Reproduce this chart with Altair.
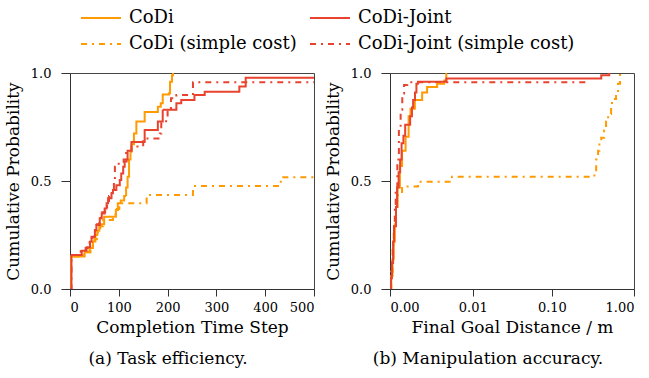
import altair as alt
import pandas as pd

SERIES = ["CoDi", "CoDi (simple cost)", "CoDi-Joint", "CoDi-Joint (simple cost)"]
COLORS = ["#FF9A00", "#FF9A00", "#E8432E", "#E8432E"]
DASHES = [[1, 0], [6, 5, 2, 5], [1, 0], [6, 5, 2, 5]]

# ---- (a) Task efficiency: completion time step ECDFs ----
a_codi_x = [0, 2, 30, 40, 47, 52, 56, 60, 64, 70, 94, 98, 104, 111, 115, 118, 121, 124, 126, 131, 136, 153, 180, 186, 190, 203, 205, 209, 211]
a_codi_p = [0, 0.15, 0.17, 0.19, 0.22, 0.25, 0.27, 0.29, 0.30, 0.335, 0.366, 0.397, 0.41, 0.43, 0.47, 0.52, 0.60, 0.64, 0.67, 0.72, 0.775, 0.82, 0.844, 0.86, 0.90, 0.906, 0.96, 0.99, 1.0]

a_joint_x = [0, 3, 24, 34, 41, 44, 51, 54, 61, 65, 71, 75, 78, 85, 88, 95, 102, 105, 109, 112, 116, 118, 126, 153, 180, 190, 218, 228, 255, 276, 347, 360, 500]
a_joint_p = [0, 0.157, 0.177, 0.193, 0.219, 0.242, 0.273, 0.296, 0.327, 0.35, 0.373, 0.397, 0.42, 0.443, 0.458, 0.48, 0.505, 0.535, 0.566, 0.59, 0.60, 0.64, 0.68, 0.736, 0.775, 0.83, 0.86, 0.875, 0.898, 0.913, 0.937, 0.978, 0.978]

a_codi_sc_x = [0, 2, 28, 42, 50, 55, 62, 68, 88, 96, 101, 157, 252, 432, 500]
a_codi_sc_p = [0, 0.15, 0.17, 0.20, 0.23, 0.26, 0.29, 0.32, 0.345, 0.37, 0.397, 0.435, 0.477, 0.517, 0.517]

a_joint_sc_x = [0, 3, 22, 32, 40, 45, 50, 55, 60, 66, 72, 76, 80, 86, 90, 92, 96, 110, 115, 126, 150, 184, 187, 197, 200, 207, 218, 252, 500]
a_joint_sc_p = [0, 0.157, 0.175, 0.19, 0.215, 0.24, 0.27, 0.30, 0.33, 0.355, 0.38, 0.40, 0.43, 0.45, 0.50, 0.566, 0.58, 0.60, 0.63, 0.66, 0.697, 0.72, 0.767, 0.79, 0.83, 0.883, 0.898, 0.957, 0.957]

# ---- (b) Manipulation accuracy: final goal distance ECDFs (m) ----
b_codi_x = [0, 0.00004, 0.00008, 0.00012, 0.00016, 0.0002, 0.00026, 0.00035, 0.00044, 0.0006, 0.00075, 0.00085, 0.0011, 0.0016, 0.002, 0.003, 0.0039, 0.0042]
b_codi_p = [0, 0.06, 0.14, 0.22, 0.30, 0.38, 0.47, 0.57, 0.64, 0.705, 0.80, 0.835, 0.875, 0.91, 0.935, 0.95, 0.965, 1.0]

b_joint_x = [0, 0.00003, 0.00006, 0.0001, 0.00013, 0.0002, 0.00024, 0.0003, 0.00036, 0.00042, 0.0005, 0.00058, 0.00083, 0.00093, 0.001, 0.00111, 0.0012, 0.0013, 0.0042, 0.40, 0.50]
b_joint_p = [0, 0.05, 0.12, 0.22, 0.29, 0.38, 0.47, 0.54, 0.60, 0.675, 0.71, 0.76, 0.80, 0.84, 0.875, 0.91, 0.95, 0.96, 0.975, 0.99, 1.0]

b_codi_sc_x = [0, 0.00004, 0.00008, 0.00012, 0.00016, 0.0002, 0.00025, 0.00044, 0.0013, 0.0051, 0.33, 0.347, 0.366, 0.38, 0.40, 0.434, 0.458, 0.485, 0.527, 0.541, 0.605, 0.64, 0.677]
b_codi_sc_p = [0, 0.08, 0.18, 0.27, 0.35, 0.41, 0.435, 0.474, 0.497, 0.52, 0.55, 0.60, 0.64, 0.675, 0.70, 0.735, 0.775, 0.81, 0.84, 0.88, 0.91, 0.95, 1.0]

b_joint_sc_x = [0, 0.00003, 0.00007, 0.0001, 0.00013, 0.00016, 0.00019, 0.00025, 0.00031, 0.00038, 0.00045, 0.00053, 0.00068, 0.284]
b_joint_sc_p = [0, 0.06, 0.134, 0.21, 0.29, 0.38, 0.47, 0.60, 0.75, 0.83, 0.905, 0.945, 0.957, 0.957]

TIME_TICKS = [0, 100, 200, 300, 400, 500]
DIST_TICKS = [0, 0.01, 0.1, 1.0]
PROB_TICKS = [0, 0.5, 1.0]

FONT = "DejaVu Serif"


def frame(pairs):
    rows = []
    for name, xs, ps in pairs:
        for i, (x, p) in enumerate(zip(xs, ps)):
            rows.append({"x": x, "p": p, "series": name, "i": i})
    return pd.DataFrame(rows)


df_a = frame([
    ("CoDi (simple cost)", a_codi_sc_x, a_codi_sc_p),
    ("CoDi-Joint (simple cost)", a_joint_sc_x, a_joint_sc_p),
    ("CoDi", a_codi_x, a_codi_p),
    ("CoDi-Joint", a_joint_x, a_joint_p),
])
df_b = frame([
    ("CoDi (simple cost)", b_codi_sc_x, b_codi_sc_p),
    ("CoDi-Joint (simple cost)", b_joint_sc_x, b_joint_sc_p),
    ("CoDi", b_codi_x, b_codi_p),
    ("CoDi-Joint", b_joint_x, b_joint_p),
])

legend = alt.Legend(
    title=None, orient="none", legendX=20, legendY=-66, columns=2,
    symbolType="M-2,0H2", symbolSize=400, symbolStrokeWidth=2,
    labelFont=FONT, labelFontSize=18, labelColor="black", labelLimit=400,
    labelOffset=17, columnPadding=9, rowPadding=6,
)

color = alt.Color("series:N", scale=alt.Scale(domain=SERIES, range=COLORS), legend=legend)
dash = alt.StrokeDash("series:N", scale=alt.Scale(domain=SERIES, range=DASHES), legend=legend)

y_enc = alt.Y("p:Q", scale=alt.Scale(domain=[0, 1], nice=False),
              axis=alt.Axis(values=PROB_TICKS, format=".1f", title="Cumulative Probability",
                            tickSize=9, labelPadding=10, titlePadding=8))


def title(txt):
    return alt.TitleParams(txt, orient="bottom", font=FONT, fontSize=17, fontWeight="normal",
                           color="black", dx=-24, offset=16)


left = alt.Chart(df_a).mark_line(interpolate="step-after", strokeWidth=2, clip=True).encode(
    x=alt.X("x:Q", scale=alt.Scale(domain=[0, 500], nice=False),
            axis=alt.Axis(values=TIME_TICKS, format="d", title="Completion Time Step",
                          tickSize=7, labelPadding=5, titlePadding=5)),
    y=y_enc, color=color, strokeDash=dash, order="i:Q",
).properties(width=244, height=216, title=title("(a) Task efficiency."))

right = alt.Chart(df_b).mark_line(interpolate="step-after", strokeWidth=2, clip=True).encode(
    x=alt.X("x:Q", scale=alt.Scale(type="symlog", constant=0.0011, domain=[0, 1], nice=False),
            axis=alt.Axis(values=DIST_TICKS, format=".2f", title="Final Goal Distance / m",
                          tickSize=7, labelPadding=5, titlePadding=5)),
    y=y_enc, color=color, strokeDash=dash, order="i:Q",
).properties(width=244, height=216, title=title("(b) Manipulation accuracy."))

chart = alt.hconcat(left, right, spacing=76, bounds="flush").resolve_scale(
    x="independent", y="independent", color="shared", strokeDash="shared"
).properties(
    padding={"left": 3, "top": 7, "right": 0, "bottom": 0}, background="white"
).configure_axis(
    labelFont=FONT, titleFont=FONT, labelFontSize=13, titleFontSize=17,
    titleFontWeight="normal", labelColor="black", titleColor="black",
    domainColor="#333", tickColor="#333", grid=False,
).configure_view(stroke="#444", strokeWidth=1)

chart.save("out.html", embed_options={"renderer": "svg", "actions": False})
